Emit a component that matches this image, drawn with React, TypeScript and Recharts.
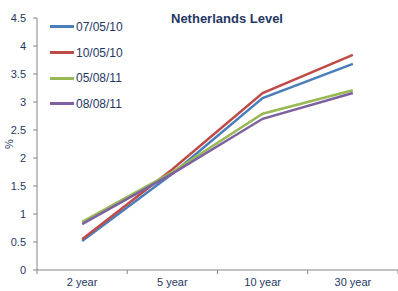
import React from 'react';
import { LineChart, Line, XAxis, YAxis } from 'recharts';

const categories = ['2 year', '5 year', '10 year', '30 year'];
const seriesNames = ['07/05/10', '10/05/10', '05/08/11', '08/08/11'];
const seriesColors = ['#4a7ebb', '#be4b48', '#98b954', '#7d60a0'];
const s070510 = [0.52, 1.72, 3.07, 3.68];
const s100510 = [0.55, 1.8, 3.16, 3.84];
const s050811 = [0.86, 1.75, 2.79, 3.21];
const s080811 = [0.82, 1.72, 2.7, 3.16];
const seriesValues = [s070510, s100510, s050811, s080811];
const yTicks = [0, 0.5, 1, 1.5, 2, 2.5, 3, 3.5, 4, 4.5];

const data = categories.map((c, i) => {
  const row: Record<string, any> = { name: c };
  seriesNames.forEach((s, j) => (row[s] = seriesValues[j][i]));
  return row;
});

const TEXT = '#1f3864';
const AXIS = '#868686';
const FONT = '"Liberation Sans", Arial, sans-serif';

// Excel-style tick: label at the category center, tick marks on the boundaries
function CategoryTick(props: any) {
  const { x, y, payload, index } = props;
  const half = 361 / 8;
  return (
    <g>
      <line x1={x - half} x2={x - half} y1={y} y2={y + 4} stroke={AXIS} />
      {index === categories.length - 1 && (
        <line x1={x + half} x2={x + half} y1={y} y2={y + 4} stroke={AXIS} />
      )}
      <text x={x} y={y + 16} textAnchor="middle" fill={TEXT} fontSize={11} fontFamily={FONT}>
        {payload.value}
      </text>
    </g>
  );
}

export default function App() {
  return (
    <div style={{ position: 'absolute', left: 0, top: 0, width: 398, height: 291, background: '#fff' }}>
      <div
        style={{
          position: 'absolute',
          left: 171,
          top: 11,
          fontFamily: FONT,
          fontWeight: 'bold',
          fontSize: 13,
          color: TEXT,
        }}
      >
        Netherlands Level
      </div>
      <div style={{ position: 'absolute', left: 50, top: 14, fontFamily: FONT, fontSize: 12, color: TEXT, zIndex: 1 }}>
        {seriesNames.map((s, i) => (
          <div key={s} style={{ display: 'flex', alignItems: 'center', height: 25.7 }}>
            <span style={{ display: 'inline-block', width: 24, height: 3, background: seriesColors[i], marginRight: 2 }} />
            {s}
          </div>
        ))}
      </div>
      <LineChart width={398} height={291} data={data} margin={{ top: 18, right: 0, bottom: 0, left: 0 }}>
        <XAxis
          dataKey="name"
          scale="band"
          height={21}
          stroke={AXIS}
          tickLine={false}
          tickSize={0}
          tickMargin={0}
          tick={<CategoryTick />}
        />
        <YAxis
          width={37}
          domain={[0, 4.5]}
          ticks={yTicks}
          stroke={AXIS}
          tickSize={4}
          tickMargin={7}
          tick={{ fill: TEXT, fontSize: 11, fontFamily: FONT }}
          label={{ value: '%', angle: -90, position: 'center', dx: -9, fill: TEXT, fontSize: 11, fontFamily: FONT }}
        />
        {seriesNames.map((s, i) => (
          <Line key={s} dataKey={s} stroke={seriesColors[i]} strokeWidth={2.5} dot={false} isAnimationActive={false} />
        ))}
      </LineChart>
    </div>
  );
}
